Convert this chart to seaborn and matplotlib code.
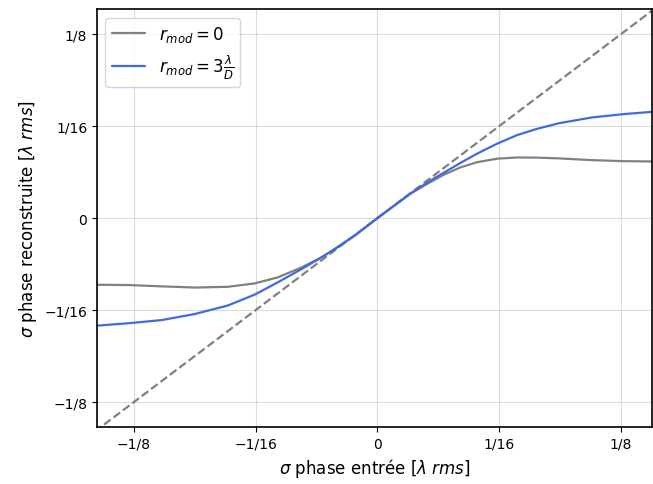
import numpy as np
import pandas as pd
import matplotlib
matplotlib.use("Agg")
import matplotlib.pyplot as plt
import seaborn as sns

# values (lambda rms)
x_in = [-0.1450, -0.1281, -0.1107, -0.0938, -0.0768, -0.0630, -0.0512, -0.0389, -0.0287,
        -0.0220, -0.0113, 0.0, 0.0169, 0.0272, 0.0343, 0.0425, 0.0512, 0.0615, 0.0717,
        0.0815, 0.0932, 0.1101, 0.1265, 0.1409]
y_gray = [-0.0453, -0.0455, -0.0464, -0.0472, -0.0467, -0.0444, -0.0403, -0.0335, -0.0267,
          -0.0211, -0.0115, 0.0, 0.0166, 0.0245, 0.0296, 0.0344, 0.0380, 0.0404, 0.0412,
          0.0411, 0.0406, 0.0394, 0.0387, 0.0385]
y_blue = [-0.0732, -0.0715, -0.0693, -0.0652, -0.0594, -0.0520, -0.0437, -0.0346, -0.0267,
          -0.0211, -0.0115, 0.0, 0.0166, 0.0255, 0.0310, 0.0374, 0.0438, 0.0506, 0.0564,
          0.0605, 0.0645, 0.0684, 0.0707, 0.0722]
diag = [-0.15, 0.15]

ticks = [-1/8, -1/16, 0, 1/16, 1/8]
tick_labels = ["\u22121/8", "\u22121/16", "0", "1/16", "1/8"]

df = pd.concat([
    pd.DataFrame({"x": x_in, "y": y_gray, "r": r"$r_{mod}=0$"}),
    pd.DataFrame({"x": x_in, "y": y_blue, "r": r"$r_{mod}=3\frac{\lambda}{D}$"}),
])

sns.set_style("ticks")
plt.rcParams.update({"text.color": "black", "axes.labelcolor": "black",
                     "xtick.color": "black", "ytick.color": "black"})
fig, ax = plt.subplots(figsize=(6.53, 4.85), dpi=100)
ax.plot(diag, diag, ls="--", color="grey", lw=1.6)
sns.lineplot(data=df, x="x", y="y", hue="r", palette=["grey", "royalblue"],
             lw=1.6, ax=ax, sort=False, estimator=None)

ax.set_xlim(-0.144, 0.141)
ax.set_ylim(-0.142, 0.142)
ax.set_xticks(ticks)
ax.set_xticklabels(tick_labels)
ax.set_yticks(ticks)
ax.set_yticklabels(tick_labels)
ax.grid(True, color="lightgray", alpha=0.8)
ax.tick_params(labelsize=10)
ax.set_xlabel(r"$\sigma$ phase entrée [$\lambda$ $rms$]", fontsize=12)
ax.set_ylabel(r"$\sigma$ phase reconstruite [$\lambda$ $rms$]", fontsize=12)
ax.legend(loc="upper left", fontsize=12)
for s in ax.spines.values():
    s.set_color("black")
    s.set_linewidth(1.2)

fig.subplots_adjust(left=0.1485, right=0.9985, top=0.979, bottom=0.1175)
plt.savefig("out.png", dpi=100)
